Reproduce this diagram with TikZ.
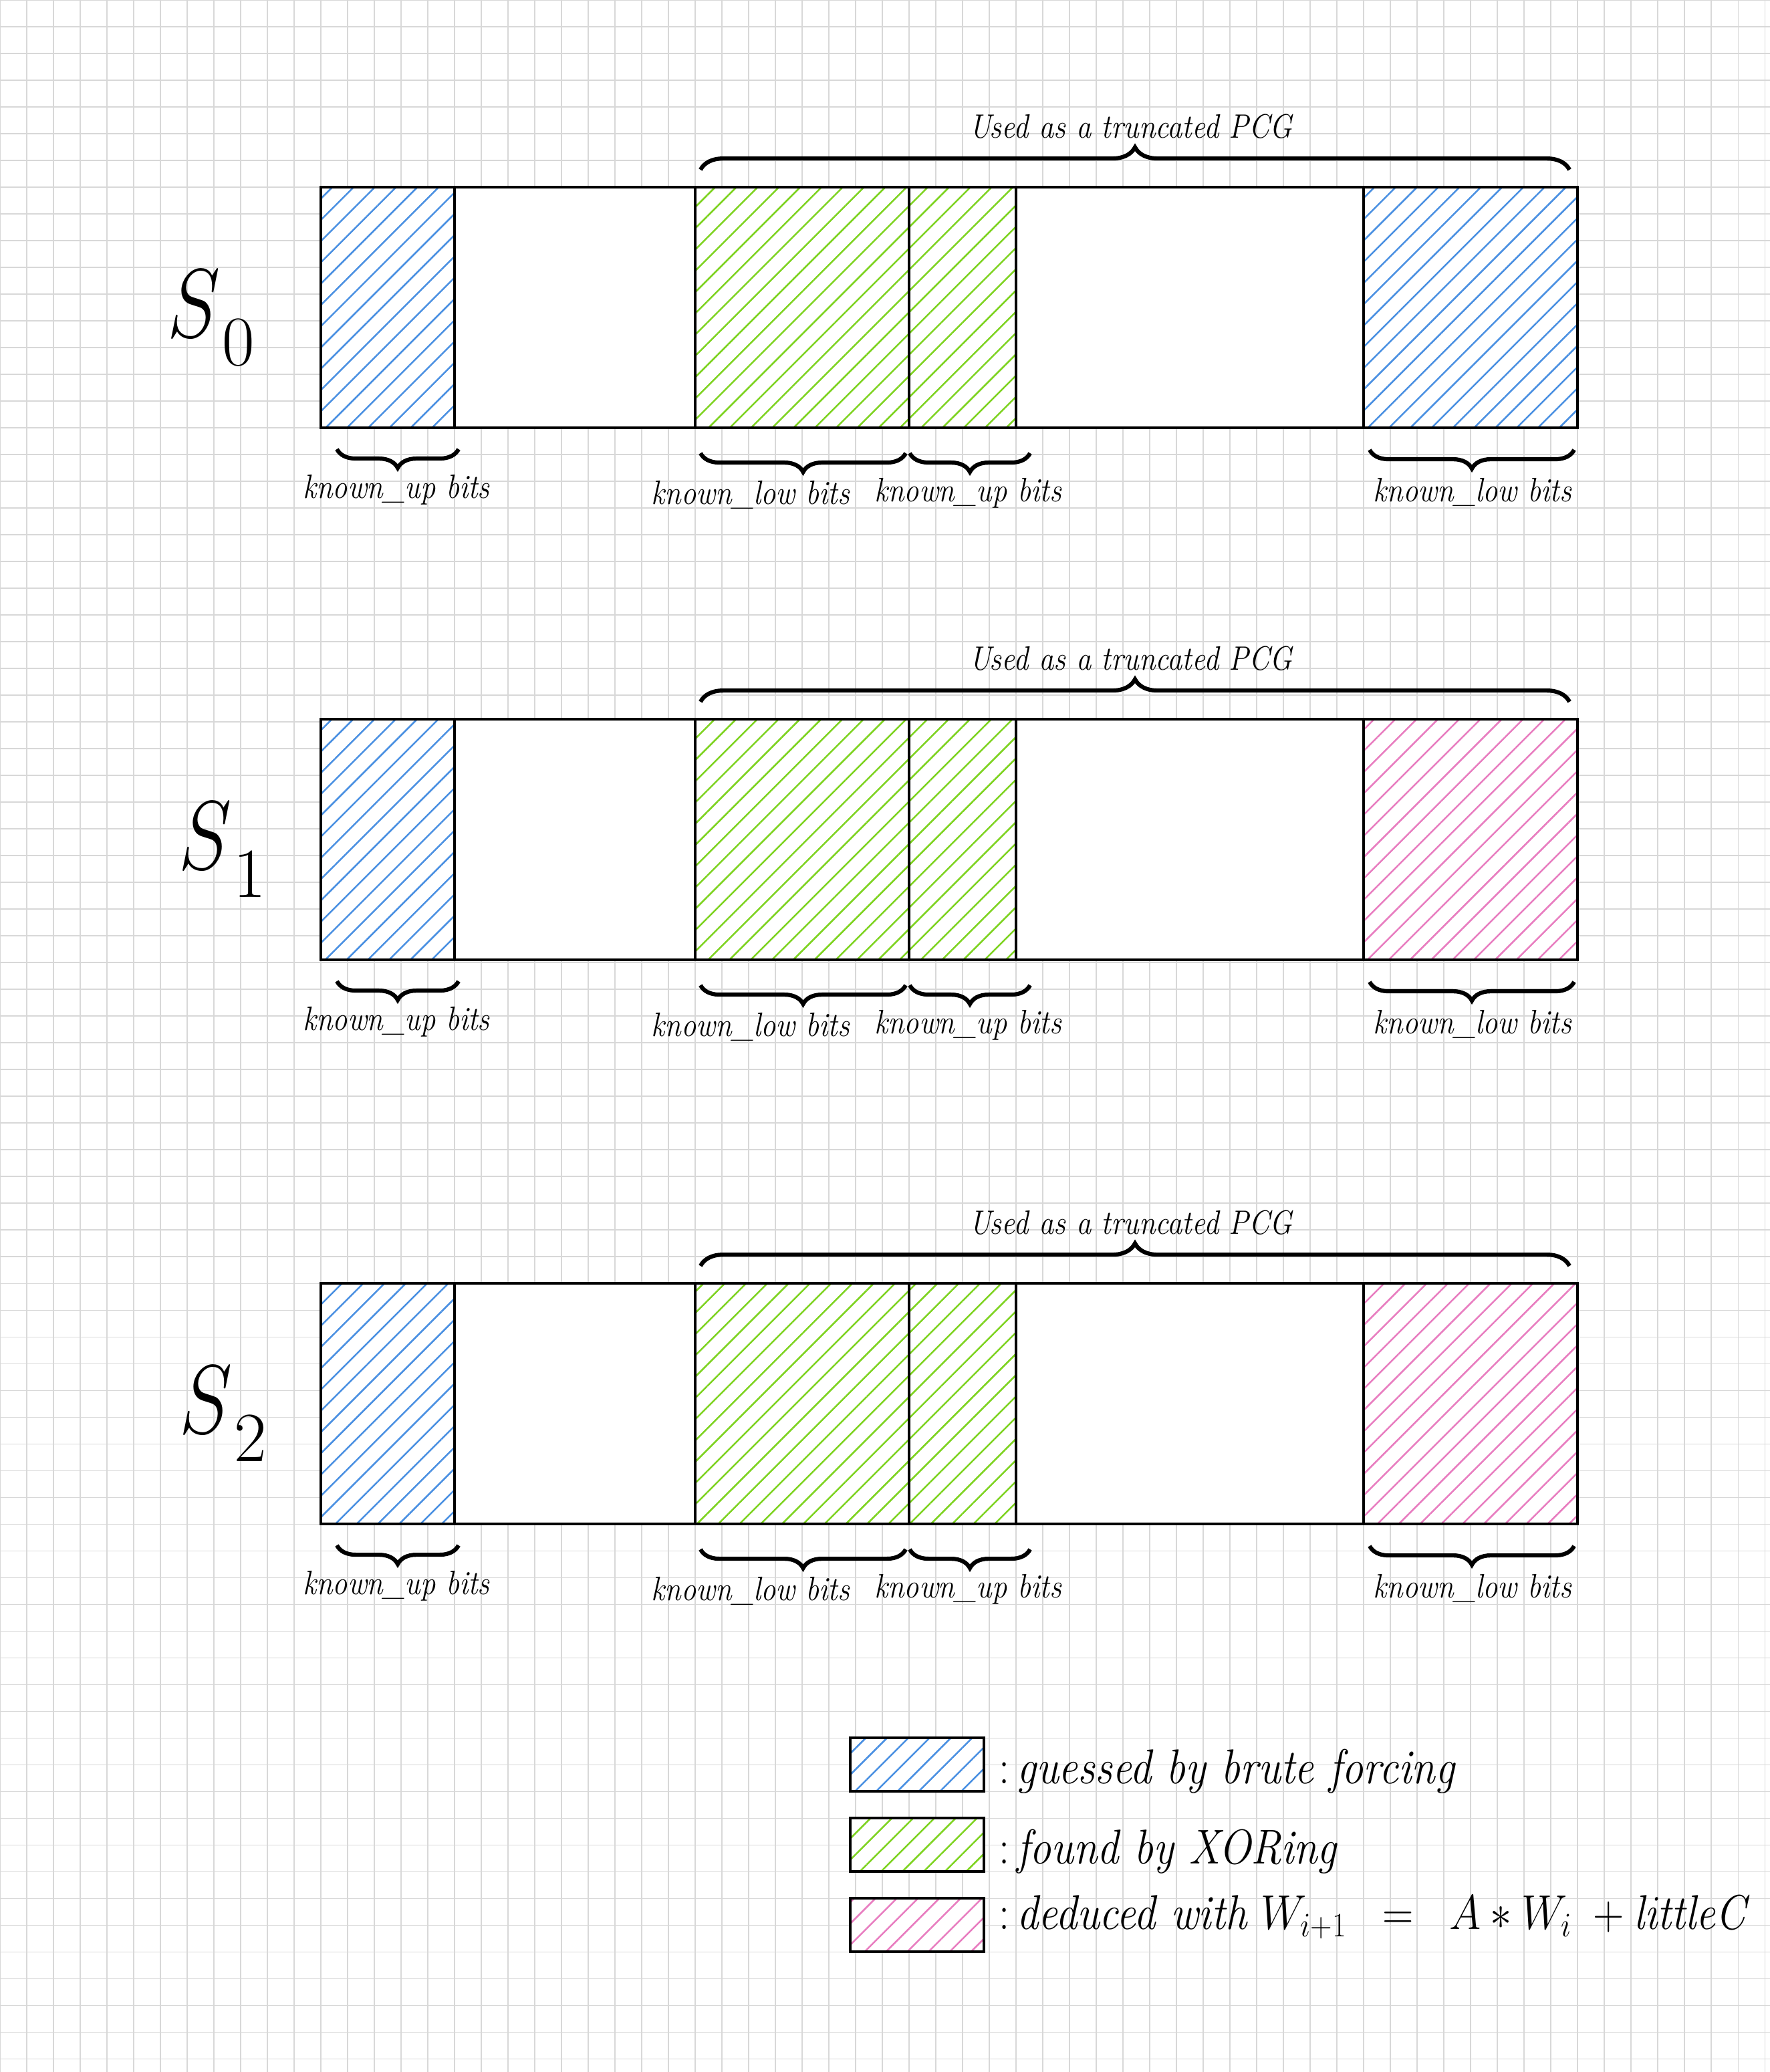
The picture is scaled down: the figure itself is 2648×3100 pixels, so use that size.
\RequirePackage{fix-cm}
\documentclass[tikz,border=0pt]{standalone}
\usepackage{graphicx}
\usetikzlibrary{patterns.meta,decorations.pathreplacing}
\definecolor{hblue}{HTML}{4A90E2}
\definecolor{hgreen}{HTML}{7ED321}
\definecolor{hpink}{HTML}{E87DC0}
\definecolor{gridc}{HTML}{D8D8D8}
\newcommand{\nlbl}[1]{\scalebox{0.88}[1]{\itshape #1}}
\newcommand{\slbl}[1]{\scalebox{0.82}[1]{$S$}\kern2pt\raisebox{-30pt}{\fontsize{75}{75}\selectfont #1}}
\tikzset{
  hatch/.style={pattern={Lines[angle=45,distance=16pt,line width=1.8pt]},pattern color=#1},
  boxline/.style={line width=2.9pt, line join=miter, line cap=rect},
  gridline/.style={draw=gridc, line width=0.75pt},
  brc/.style={decorate, decoration={brace,amplitude=#1}, line width=4.4pt},
  lab/.style={font=\fontsize{36}{40}\selectfont, inner sep=0pt, anchor=base},
  leg/.style={font=\fontsize{52}{56}\selectfont, inner sep=0pt, anchor=base west},
  slab/.style={font=\fontsize{104}{104}\selectfont, inner sep=0pt, anchor=base west},
}
\begin{document}
\begin{tikzpicture}[x=0.025cm,y=-0.025cm]
\useasboundingbox (0,0) rectangle (2648,3100);
\fill[white] (0,0) rectangle (2648,3100);
% grid
\foreach \gx in {0,40,...,2640} \draw[gridline] (\gx,0) -- (\gx,3100);
\foreach \gy in {0,40,...,3080} \draw[gridline] (0,\gy) -- (2648,\gy);
% rows
\foreach \r/\T/\c/\sx in {0/280/hblue/250, 1/1076/hpink/267, 2/1920/hpink/268}{
  \fill[white] (480,\T) rectangle (2360,\T+360);
  \fill[hatch=hblue] (480,\T) rectangle (680,\T+360);
  \fill[hatch=hgreen] (1040,\T) rectangle (1520,\T+360);
  \fill[hatch=\c] (2040,\T) rectangle (2360,\T+360);
  \coordinate (nw\r) at (480,\T);
  \coordinate (se\r) at (2360,\T+360);
  \draw[boxline] (nw\r) rectangle (se\r);
  \foreach \dx in {680,1040,1360,1520,2040}
    \draw[boxline] (\dx,\T) -- (\dx,\T+360);
  % label S
  \node[slab] (s\r) at (\sx,\T+224) {\slbl{\r}};
  % top brace
  \coordinate (ta\r) at (1048,\T-26);
  \coordinate (tb\r) at (2348,\T-26);
  \draw[brc=24pt] (ta\r) -- (tb\r);
  \node[lab] (used\r) at (1692,\T-74) {\nlbl{Used as a truncated PCG}};
  % bottom braces
  \coordinate (b1a\r) at (686,\T+392);  \coordinate (b1b\r) at (504,\T+392);
  \coordinate (b2a\r) at (1355,\T+398); \coordinate (b2b\r) at (1048,\T+398);
  \coordinate (b3a\r) at (1541,\T+398); \coordinate (b3b\r) at (1361,\T+398);
  \coordinate (b4a\r) at (2355,\T+393); \coordinate (b4b\r) at (2049,\T+393);
  \draw[brc=20pt] (b1a\r) -- (b1b\r);
  \draw[brc=20pt] (b2a\r) -- (b2b\r);
  \draw[brc=20pt] (b3a\r) -- (b3b\r);
  \draw[brc=20pt] (b4a\r) -- (b4b\r);
  \node[lab] (k1\r) at (593,\T+465) {\nlbl{known\_up bits}};
  \node[lab] (k2\r) at (1123,\T+474) {\nlbl{known\_low bits}};
  \node[lab] (k3\r) at (1448,\T+470) {\nlbl{known\_up bits}};
  \node[lab] (k4\r) at (2203,\T+470) {\nlbl{known\_low bits}};
}
% legend
\fill[white] (1272,2600) rectangle (1472,2680);
\fill[hatch=hblue] (1272,2600) rectangle (1472,2680);
\draw[boxline] (1272,2600) rectangle (1472,2680);
\fill[white] (1272,2720) rectangle (1472,2800);
\fill[hatch=hgreen] (1272,2720) rectangle (1472,2800);
\draw[boxline] (1272,2720) rectangle (1472,2800);
\fill[white] (1272,2840) rectangle (1472,2920);
\fill[hatch=hpink] (1272,2840) rectangle (1472,2920);
\draw[boxline] (1272,2840) rectangle (1472,2920);
\node[leg] (l1) at (1494,2668) {\scalebox{0.88}[1]{:\,\textit{guessed by brute forcing}}};
\node[leg] (l2) at (1494,2788) {\scalebox{0.88}[1]{:\,\textit{found by XORing}}};
\node[leg] (l3) at (1494,2886) {\scalebox{0.88}[1]{:\,\textit{deduced with} $W_{i+1}\;\;=\;\;A * W_i\;+\mathit{littleC}$}};
\end{tikzpicture}
\end{document}
